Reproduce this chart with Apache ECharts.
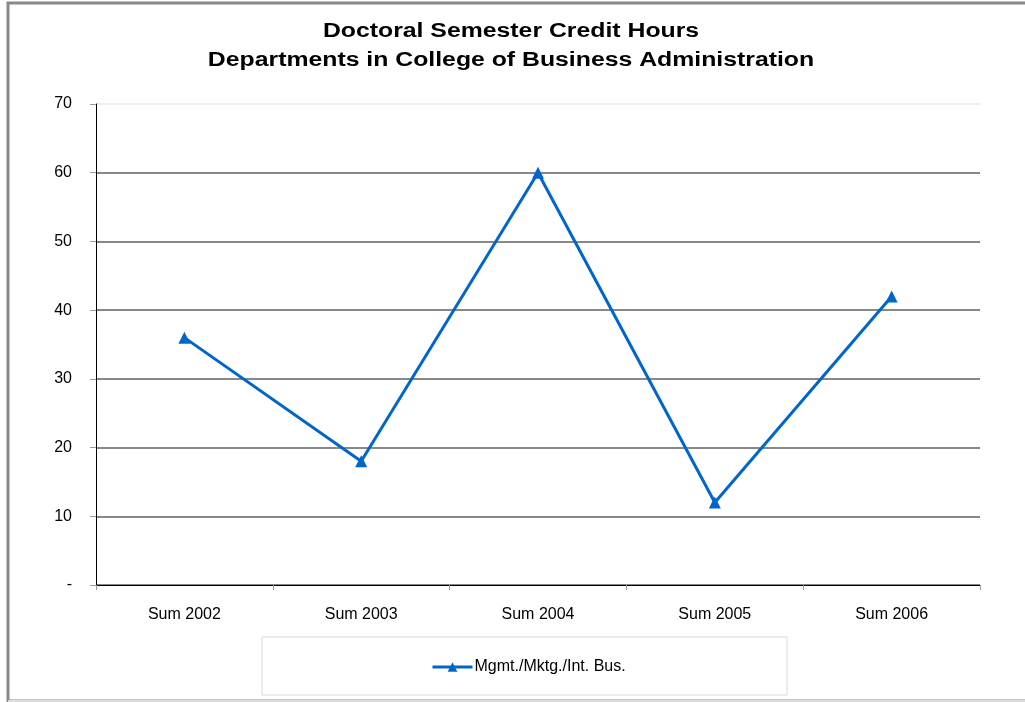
<!DOCTYPE html>
<html><head><meta charset="utf-8">
<script src="https://cdn.jsdelivr.net/npm/echarts@6/dist/echarts.min.js"></script>
<style>html,body{margin:0;padding:0;background:#fff}#c{width:1025px;height:702px}</style>
</head><body><div id="c"></div>
<script>
const titleLines = ['Doctoral Semester Credit Hours', 'Departments in College of Business Administration'];
const categories = ['Sum 2002', 'Sum 2003', 'Sum 2004', 'Sum 2005', 'Sum 2006'];
const seriesName = 'Mgmt./Mktg./Int. Bus.';
const values = [36, 18, 60, 12, 42];
const yTicks = [0, 10, 20, 30, 40, 50, 60, 70];

const chart = echarts.init(document.getElementById('c'));
const font = 'Arial, "Liberation Sans", sans-serif';
chart.setOption({
  animation: false,
  backgroundColor: '#fff',
  grid: { left: 96, right: 45, top: 104, bottom: 117 },
  xAxis: {
    type: 'category', data: categories, boundaryGap: true,
    axisLine: { lineStyle: { color: '#000', width: 1 } },
    axisTick: { show: true, length: 5, lineStyle: { color: '#999' } },
    axisLabel: { fontFamily: font, fontSize: 16, color: '#000', margin: 22 }
  },
  yAxis: {
    type: 'value', min: yTicks[0], max: yTicks[yTicks.length - 1], interval: 10,
    axisLine: { show: true, lineStyle: { color: '#000', width: 1 } },
    axisTick: { show: true, length: 6, lineStyle: { color: '#999' } },
    axisLabel: {
      fontFamily: font, fontSize: 16, color: '#000', margin: 24,
      formatter: v => v === 0 ? '-' : String(v)
    },
    splitLine: { show: true, lineStyle: { color: ['#888','#888','#888','#888','#888','#888','#888','#eee'], width: 2 } }
  },
  legend: {
    data: [seriesName],
    left: 426, top: 654,
    itemWidth: 40, itemHeight: 12, itemGap: 5,
    lineStyle: { width: 3 },
    textStyle: { fontFamily: font, fontSize: 16, color: '#000', padding: [0, 0, 0, -3] }
  },
  graphic: [
    { type: 'rect', shape: { x: 8, y: 3, width: 1030, height: 698 }, style: { fill: 'none', stroke: '#888', lineWidth: 3 }, z: -1 },
    { type: 'line', shape: { x1: 8, y1: 701, x2: 1025, y2: 701 }, style: { stroke: '#ddd', lineWidth: 2 }, z: 0 },
    { type: 'rect', shape: { x: 262, y: 637, width: 525, height: 58 }, style: { fill: 'none', stroke: '#d9d9d9', lineWidth: 1 } },
    { type: 'text', x: 511, y: 31, scaleX: 1.24, style: { text: titleLines[0], font: 'bold 20px ' + font, fill: '#000', textAlign: 'center', textVerticalAlign: 'middle' } },
    { type: 'text', x: 511, y: 60, scaleX: 1.24, style: { text: titleLines[1], font: 'bold 20px ' + font, fill: '#000', textAlign: 'center', textVerticalAlign: 'middle' } }
  ],
  series: [{
    name: seriesName, type: 'line', data: values,
    symbol: 'triangle', symbolSize: 12,
    lineStyle: { color: '#0066CC', width: 3 },
    itemStyle: { color: '#0066CC' }
  }]
});
</script></body></html>
